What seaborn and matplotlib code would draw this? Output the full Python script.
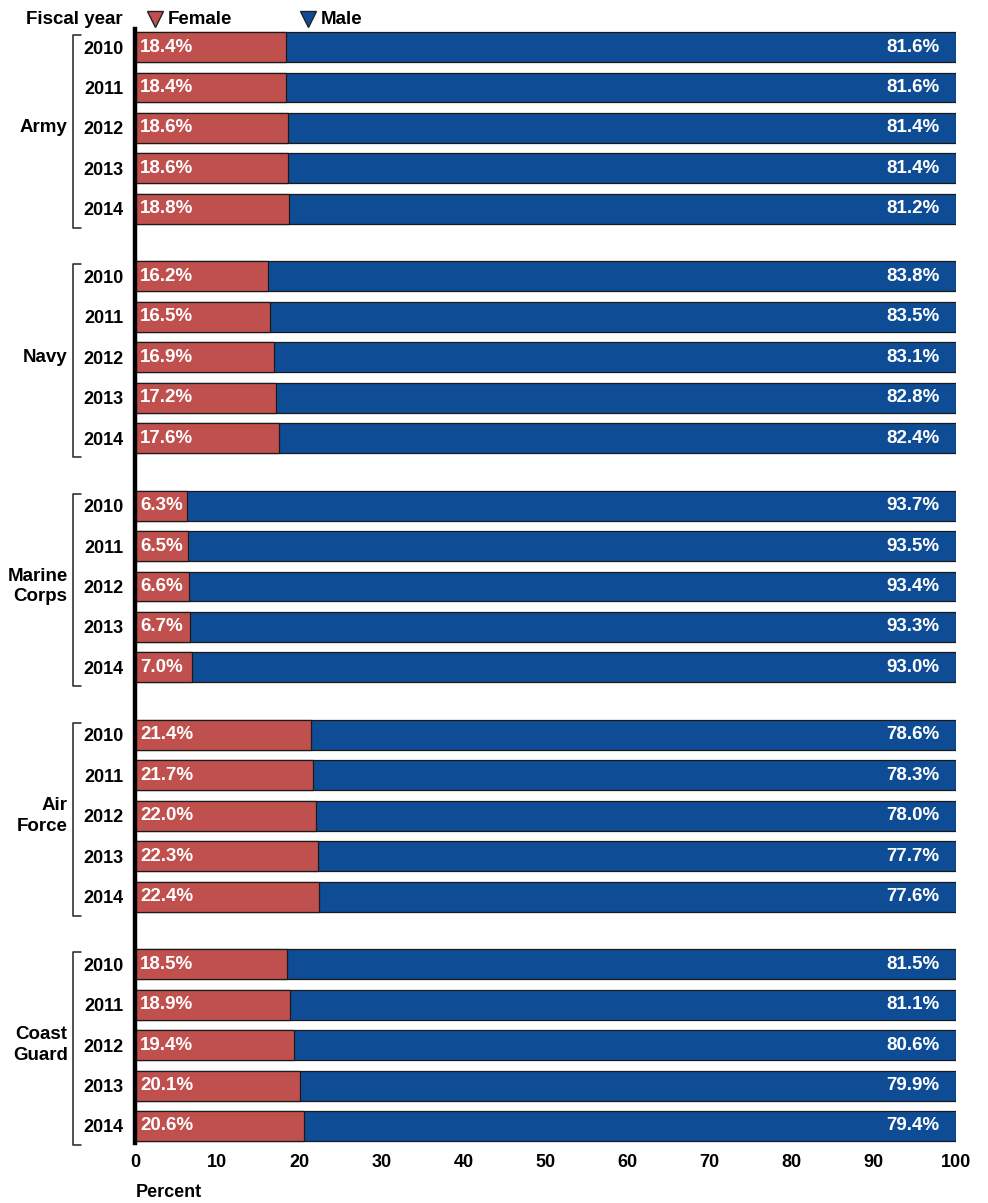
import pandas as pd
import matplotlib
matplotlib.use('Agg')
import matplotlib.pyplot as plt
import seaborn as sb

services = ['Army', 'Navy', 'Marine\nCorps', 'Air\nForce', 'Coast\nGuard']
years = ['2010', '2011', '2012', '2013', '2014']
female_army = [18.4, 18.4, 18.6, 18.6, 18.8]
female_navy = [16.2, 16.5, 16.9, 17.2, 17.6]
female_marine = [6.3, 6.5, 6.6, 6.7, 7.0]
female_airforce = [21.4, 21.7, 22.0, 22.3, 22.4]
female_coast = [18.5, 18.9, 19.4, 20.1, 20.6]
male_army = [81.6, 81.6, 81.4, 81.4, 81.2]
male_navy = [83.8, 83.5, 83.1, 82.8, 82.4]
male_marine = [93.7, 93.5, 93.4, 93.3, 93.0]
male_airforce = [78.6, 78.3, 78.0, 77.7, 77.6]
male_coast = [81.5, 81.1, 80.6, 79.9, 79.4]

female_all = [female_army, female_navy, female_marine, female_airforce, female_coast]
male_all = [male_army, male_navy, male_marine, male_airforce, male_coast]

female_col = '#C0504D'
male_col = '#0F4C96'
group_step = 5.67

rows = []
for g, svc in enumerate(services):
    for i, yr in enumerate(years):
        rows.append({'service': svc, 'year': yr, 'pos': g * group_step + i,
                     'female': female_all[g][i], 'male': male_all[g][i],
                     'total': female_all[g][i] + male_all[g][i]})
df = pd.DataFrame(rows)

sb.set_style('white')
plt.rcParams['font.family'] = ['Liberation Sans', 'DejaVu Sans']
plt.rcParams['font.weight'] = 'bold'
plt.rcParams['text.color'] = 'black'
plt.rcParams['xtick.color'] = 'black'
plt.rcParams['ytick.color'] = 'black'

fig = plt.figure(figsize=(9.88, 12.03), dpi=100)
ax = fig.add_axes([0.1366, 0.0499, 0.831, 0.9261])

sb.barplot(data=df, x='total', y='pos', orient='h', native_scale=True, color=male_col,
           saturation=1, width=0.74, edgecolor='#1a1a1a', linewidth=0.9, errorbar=None, ax=ax)
sb.barplot(data=df, x='female', y='pos', orient='h', native_scale=True, color=female_col,
           saturation=1, width=0.74, edgecolor='#1a1a1a', linewidth=0.9, errorbar=None, ax=ax)

# value labels
for _, r in df.iterrows():
    ax.text(0.6, r['pos'], f"{r['female']:.1f}%", color='white', fontsize=13.5,
            fontweight='bold', va='center', ha='left')
    ax.text(98, r['pos'], f"{r['male']:.1f}%", color='white', fontsize=13.5,
            fontweight='bold', va='center', ha='right')

ax.set_xlim(0, 100)
ax.set_ylim(27.1, -0.45)
ax.set_xticks(range(0, 101, 10))
ax.set_xticklabels([str(v) for v in range(0, 101, 10)], fontsize=13, fontweight='bold')
ax.set_yticks(df['pos'])
ax.set_yticklabels(df['year'], fontsize=13, fontweight='bold')
ax.tick_params(axis='both', length=0)
ax.tick_params(axis='y', pad=8)
ax.tick_params(axis='x', pad=8)
ax.set_xlabel('')
ax.set_ylabel('')
for s in ['top', 'right', 'bottom']:
    ax.spines[s].set_visible(False)
ax.spines['left'].set_linewidth(3.2)
ax.spines['left'].set_color('black')

# service brackets and labels
trans = ax.get_yaxis_transform()
bx = -0.075
for g, svc in enumerate(services):
    top = g * group_step - 0.3
    bot = g * group_step + 4 + 0.47
    ax.plot([bx + 0.009, bx, bx, bx + 0.009], [top, top, bot, bot], color='#222222',
            lw=1.1, transform=trans, clip_on=False)
    ax.text(bx - 0.007, g * group_step + 2, svc, transform=trans, ha='right', va='center',
            multialignment='right', fontsize=13.5, fontweight='bold', linespacing=1.3)

# header legend
fig.text(0.124, 0.984, 'Fiscal year', ha='right', va='center', fontsize=13.5, fontweight='bold')
for xm, lab, col in [(0.157, 'Female', female_col), (0.312, 'Male', male_col)]:
    ax.plot([xm], [0.984], marker='v', ls='', markersize=11, markerfacecolor=col,
            markeredgecolor='#222222', transform=fig.transFigure, clip_on=False)
    fig.text(xm + 0.013, 0.984, lab, ha='left', va='center', fontsize=13.5, fontweight='bold')

fig.text(0.137, 0.009, 'Percent', ha='left', va='center', fontsize=13, fontweight='bold')

plt.savefig('out.png', dpi=100)
